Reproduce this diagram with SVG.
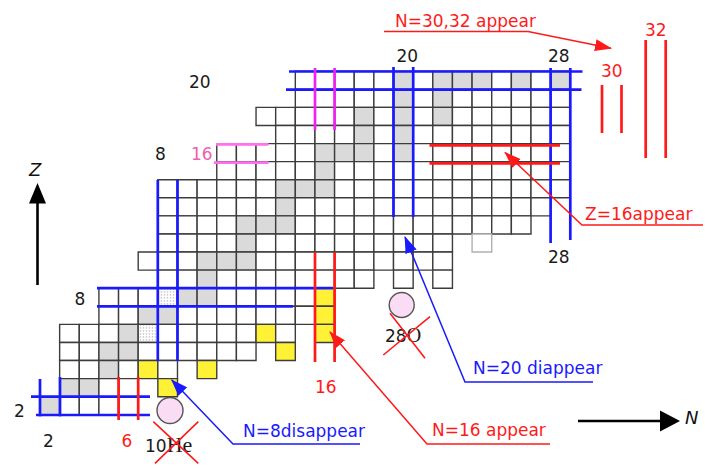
<svg xmlns="http://www.w3.org/2000/svg" width="705" height="469" viewBox="0 0 705 469">
<style>
.cl rect{fill:#fff;stroke:#3c3c3c;stroke-width:1.4;vector-effect:non-scaling-stroke}
.cl rect.s{fill:#dadada}
.cl rect.y{fill:#fff236}
.cl rect.d{fill:url(#dots)}
.cl rect.l{stroke:#b0b0b0}
.b{stroke:#1a1aff;stroke-width:2.7;fill:none}
.r{stroke:#ff1a1a;stroke-width:2.7;fill:none}
.m{stroke:#f020f0;stroke-width:2.7;fill:none}
.pk{stroke:#ff70ee;stroke-width:2.7;fill:none}
.lb{stroke:#1a1aff;stroke-width:1.5;fill:none;marker-end:url(#ab)}
.lr{stroke:#ff1a1a;stroke-width:1.5;fill:none;marker-end:url(#ar)}
.x{stroke:#ff1a1a;stroke-width:1.6}
text{font-family:"DejaVu Sans",sans-serif;font-size:17px}
.tr{fill:#ff1a1a}
.tb{fill:#1a1aff}
.tk{fill:#1a1a1a}
.tp{fill:#f060b0}
.it{font-style:italic;font-size:18px;fill:#111}
.sf{font-family:"Liberation Serif",serif}
.pc{fill:#fadcf5;stroke:#555;stroke-width:1.4}
</style>
<defs>
<pattern id="dots" patternUnits="userSpaceOnUse" width="0.153" height="0.166"><rect width="0.153" height="0.166" fill="#fff"/><circle cx="0.076" cy="0.083" r="0.036" fill="#a0a0a0"/></pattern>
<marker id="ar" viewBox="0 0 17 12" markerWidth="17" markerHeight="12" refX="16" refY="6" orient="auto" markerUnits="userSpaceOnUse"><path d="M0 0L17 6L0 12z" fill="#ff1a1a"/></marker>
<marker id="ab" viewBox="0 0 17 12" markerWidth="17" markerHeight="12" refX="16" refY="6" orient="auto" markerUnits="userSpaceOnUse"><path d="M0 0L17 6L0 12z" fill="#1a1aff"/></marker>
</defs>
<rect width="705" height="469" fill="#fff"/>
<g id="chart" class="cl" transform="matrix(19.64 0 0 18.08 0.72 71.26)">
<!-- Z=20 -->
<rect x="15" y="0" width="1" height="1"/><rect x="16" y="0" width="1" height="1"/><rect x="17" y="0" width="1" height="1"/><rect x="18" y="0" width="1" height="1"/><rect x="19" y="0" width="1" height="1"/><rect class="s" x="20" y="0" width="1" height="1"/><rect x="21" y="0" width="1" height="1"/><rect class="s" x="22" y="0" width="1" height="1"/><rect class="s" x="23" y="0" width="1" height="1"/><rect class="s" x="24" y="0" width="1" height="1"/><rect x="25" y="0" width="1" height="1"/><rect class="s" x="26" y="0" width="1" height="1"/><rect x="27" y="0" width="1" height="1"/><rect class="s" x="28" y="0" width="1" height="1"/>
<!-- Z=19 -->
<rect x="15" y="1" width="1" height="1"/><rect x="16" y="1" width="1" height="1"/><rect x="17" y="1" width="1" height="1"/><rect x="18" y="1" width="1" height="1"/><rect x="19" y="1" width="1" height="1"/><rect class="s" x="20" y="1" width="1" height="1"/><rect x="21" y="1" width="1" height="1"/><rect class="s" x="22" y="1" width="1" height="1"/><rect x="23" y="1" width="1" height="1"/><rect x="24" y="1" width="1" height="1"/><rect x="25" y="1" width="1" height="1"/><rect x="26" y="1" width="1" height="1"/><rect x="27" y="1" width="1" height="1"/><rect x="28" y="1" width="1" height="1"/>
<!-- Z=18 -->
<rect x="13" y="2" width="1" height="1"/><rect x="14" y="2" width="1" height="1"/><rect x="15" y="2" width="1" height="1"/><rect x="16" y="2" width="1" height="1"/><rect x="17" y="2" width="1" height="1"/><rect class="s" x="18" y="2" width="1" height="1"/><rect x="19" y="2" width="1" height="1"/><rect class="s" x="20" y="2" width="1" height="1"/><rect x="21" y="2" width="1" height="1"/><rect class="s" x="22" y="2" width="1" height="1"/><rect x="23" y="2" width="1" height="1"/><rect x="24" y="2" width="1" height="1"/><rect x="25" y="2" width="1" height="1"/><rect x="26" y="2" width="1" height="1"/><rect x="27" y="2" width="1" height="1"/><rect x="28" y="2" width="1" height="1"/>
<!-- Z=17 -->
<rect x="14" y="3" width="1" height="1"/><rect x="15" y="3" width="1" height="1"/><rect x="16" y="3" width="1" height="1"/><rect x="17" y="3" width="1" height="1"/><rect class="s" x="18" y="3" width="1" height="1"/><rect x="19" y="3" width="1" height="1"/><rect class="s" x="20" y="3" width="1" height="1"/><rect x="21" y="3" width="1" height="1"/><rect x="22" y="3" width="1" height="1"/><rect x="23" y="3" width="1" height="1"/><rect x="24" y="3" width="1" height="1"/><rect x="25" y="3" width="1" height="1"/><rect x="26" y="3" width="1" height="1"/><rect x="27" y="3" width="1" height="1"/><rect x="28" y="3" width="1" height="1"/>
<!-- Z=16 -->
<rect x="11" y="4" width="1" height="1"/><rect x="12" y="4" width="1" height="1"/><rect x="13" y="4" width="1" height="1"/><rect x="14" y="4" width="1" height="1"/><rect x="15" y="4" width="1" height="1"/><rect class="s" x="16" y="4" width="1" height="1"/><rect class="s" x="17" y="4" width="1" height="1"/><rect class="s" x="18" y="4" width="1" height="1"/><rect x="19" y="4" width="1" height="1"/><rect class="s" x="20" y="4" width="1" height="1"/><rect x="21" y="4" width="1" height="1"/><rect x="22" y="4" width="1" height="1"/><rect x="23" y="4" width="1" height="1"/><rect x="24" y="4" width="1" height="1"/><rect x="25" y="4" width="1" height="1"/><rect x="26" y="4" width="1" height="1"/><rect x="27" y="4" width="1" height="1"/><rect x="28" y="4" width="1" height="1"/>
<!-- Z=15 -->
<rect x="11" y="5" width="1" height="1"/><rect x="12" y="5" width="1" height="1"/><rect x="13" y="5" width="1" height="1"/><rect x="14" y="5" width="1" height="1"/><rect x="15" y="5" width="1" height="1"/><rect class="s" x="16" y="5" width="1" height="1"/><rect x="17" y="5" width="1" height="1"/><rect x="18" y="5" width="1" height="1"/><rect x="19" y="5" width="1" height="1"/><rect x="20" y="5" width="1" height="1"/><rect x="21" y="5" width="1" height="1"/><rect x="22" y="5" width="1" height="1"/><rect x="23" y="5" width="1" height="1"/><rect x="24" y="5" width="1" height="1"/><rect x="25" y="5" width="1" height="1"/><rect x="26" y="5" width="1" height="1"/><rect x="27" y="5" width="1" height="1"/><rect x="28" y="5" width="1" height="1"/>
<!-- Z=14 -->
<rect x="8" y="6" width="1" height="1"/><rect x="9" y="6" width="1" height="1"/><rect x="10" y="6" width="1" height="1"/><rect x="11" y="6" width="1" height="1"/><rect x="12" y="6" width="1" height="1"/><rect x="13" y="6" width="1" height="1"/><rect class="s" x="14" y="6" width="1" height="1"/><rect class="s" x="15" y="6" width="1" height="1"/><rect class="s" x="16" y="6" width="1" height="1"/><rect x="17" y="6" width="1" height="1"/><rect x="18" y="6" width="1" height="1"/><rect x="19" y="6" width="1" height="1"/><rect x="20" y="6" width="1" height="1"/><rect x="21" y="6" width="1" height="1"/><rect x="22" y="6" width="1" height="1"/><rect x="23" y="6" width="1" height="1"/><rect x="24" y="6" width="1" height="1"/><rect x="25" y="6" width="1" height="1"/><rect x="26" y="6" width="1" height="1"/><rect x="27" y="6" width="1" height="1"/><rect x="28" y="6" width="1" height="1"/>
<!-- Z=13 -->
<rect x="8" y="7" width="1" height="1"/><rect x="9" y="7" width="1" height="1"/><rect x="10" y="7" width="1" height="1"/><rect x="11" y="7" width="1" height="1"/><rect x="12" y="7" width="1" height="1"/><rect x="13" y="7" width="1" height="1"/><rect class="s" x="14" y="7" width="1" height="1"/><rect x="15" y="7" width="1" height="1"/><rect x="16" y="7" width="1" height="1"/><rect x="17" y="7" width="1" height="1"/><rect x="18" y="7" width="1" height="1"/><rect x="19" y="7" width="1" height="1"/><rect x="20" y="7" width="1" height="1"/><rect x="21" y="7" width="1" height="1"/><rect x="22" y="7" width="1" height="1"/><rect x="23" y="7" width="1" height="1"/><rect x="24" y="7" width="1" height="1"/><rect x="25" y="7" width="1" height="1"/><rect x="26" y="7" width="1" height="1"/><rect x="27" y="7" width="1" height="1"/>
<!-- Z=12 -->
<rect x="8" y="8" width="1" height="1"/><rect x="9" y="8" width="1" height="1"/><rect x="10" y="8" width="1" height="1"/><rect x="11" y="8" width="1" height="1"/><rect class="s" x="12" y="8" width="1" height="1"/><rect class="s" x="13" y="8" width="1" height="1"/><rect class="s" x="14" y="8" width="1" height="1"/><rect x="15" y="8" width="1" height="1"/><rect x="16" y="8" width="1" height="1"/><rect x="17" y="8" width="1" height="1"/><rect x="18" y="8" width="1" height="1"/><rect x="19" y="8" width="1" height="1"/><rect x="20" y="8" width="1" height="1"/><rect x="21" y="8" width="1" height="1"/><rect x="22" y="8" width="1" height="1"/><rect x="23" y="8" width="1" height="1"/><rect x="24" y="8" width="1" height="1"/><rect x="25" y="8" width="1" height="1"/><rect x="26" y="8" width="1" height="1"/>
<!-- Z=11 -->
<rect x="8" y="9" width="1" height="1"/><rect x="9" y="9" width="1" height="1"/><rect x="10" y="9" width="1" height="1"/><rect x="11" y="9" width="1" height="1"/><rect class="s" x="12" y="9" width="1" height="1"/><rect x="13" y="9" width="1" height="1"/><rect x="14" y="9" width="1" height="1"/><rect x="15" y="9" width="1" height="1"/><rect x="16" y="9" width="1" height="1"/><rect x="17" y="9" width="1" height="1"/><rect x="18" y="9" width="1" height="1"/><rect x="19" y="9" width="1" height="1"/><rect x="20" y="9" width="1" height="1"/><rect x="21" y="9" width="1" height="1"/><rect x="22" y="9" width="1" height="1"/><rect class="l" x="24" y="9" width="1" height="1"/>
<!-- Z=10 -->
<rect x="7" y="10" width="1" height="1"/><rect x="8" y="10" width="1" height="1"/><rect x="9" y="10" width="1" height="1"/><rect class="s" x="10" y="10" width="1" height="1"/><rect class="s" x="11" y="10" width="1" height="1"/><rect class="s" x="12" y="10" width="1" height="1"/><rect x="13" y="10" width="1" height="1"/><rect x="14" y="10" width="1" height="1"/><rect x="15" y="10" width="1" height="1"/><rect x="16" y="10" width="1" height="1"/><rect x="17" y="10" width="1" height="1"/><rect x="18" y="10" width="1" height="1"/><rect x="19" y="10" width="1" height="1"/><rect x="20" y="10" width="1" height="1"/><rect x="21" y="10" width="1" height="1"/><rect x="22" y="10" width="1" height="1"/>
<!-- Z=9 -->
<rect x="8" y="11" width="1" height="1"/><rect x="9" y="11" width="1" height="1"/><rect class="s" x="10" y="11" width="1" height="1"/><rect x="11" y="11" width="1" height="1"/><rect x="12" y="11" width="1" height="1"/><rect x="13" y="11" width="1" height="1"/><rect x="14" y="11" width="1" height="1"/><rect x="15" y="11" width="1" height="1"/><rect x="16" y="11" width="1" height="1"/><rect x="17" y="11" width="1" height="1"/><rect x="18" y="11" width="1" height="1"/><rect x="20" y="11" width="1" height="1"/><rect x="22" y="11" width="1" height="1"/>
<!-- Z=8 -->
<rect x="5" y="12" width="1" height="1"/><rect x="6" y="12" width="1" height="1"/><rect x="7" y="12" width="1" height="1"/><rect class="d" x="8" y="12" width="1" height="1"/><rect class="s" x="9" y="12" width="1" height="1"/><rect class="s" x="10" y="12" width="1" height="1"/><rect x="11" y="12" width="1" height="1"/><rect x="12" y="12" width="1" height="1"/><rect x="13" y="12" width="1" height="1"/><rect x="14" y="12" width="1" height="1"/><rect x="15" y="12" width="1" height="1"/><rect class="y" x="16" y="12" width="1" height="1"/>
<!-- Z=7 -->
<rect x="5" y="13" width="1" height="1"/><rect x="6" y="13" width="1" height="1"/><rect class="s" x="7" y="13" width="1" height="1"/><rect class="s" x="8" y="13" width="1" height="1"/><rect x="9" y="13" width="1" height="1"/><rect x="10" y="13" width="1" height="1"/><rect x="11" y="13" width="1" height="1"/><rect x="12" y="13" width="1" height="1"/><rect x="13" y="13" width="1" height="1"/><rect x="14" y="13" width="1" height="1"/><rect x="15" y="13" width="1" height="1"/><rect class="y" x="16" y="13" width="1" height="1"/>
<!-- Z=6 -->
<rect x="3" y="14" width="1" height="1"/><rect x="4" y="14" width="1" height="1"/><rect x="5" y="14" width="1" height="1"/><rect class="s" x="6" y="14" width="1" height="1"/><rect class="d" x="7" y="14" width="1" height="1"/><rect x="8" y="14" width="1" height="1"/><rect x="9" y="14" width="1" height="1"/><rect x="10" y="14" width="1" height="1"/><rect x="11" y="14" width="1" height="1"/><rect x="12" y="14" width="1" height="1"/><rect class="y" x="13" y="14" width="1" height="1"/><rect x="14" y="14" width="1" height="1"/><rect class="y" x="16" y="14" width="1" height="1"/>
<!-- Z=5 -->
<rect x="3" y="15" width="1" height="1"/><rect x="4" y="15" width="1" height="1"/><rect class="s" x="5" y="15" width="1" height="1"/><rect class="s" x="6" y="15" width="1" height="1"/><rect x="7" y="15" width="1" height="1"/><rect x="8" y="15" width="1" height="1"/><rect x="9" y="15" width="1" height="1"/><rect x="10" y="15" width="1" height="1"/><rect x="11" y="15" width="1" height="1"/><rect x="12" y="15" width="1" height="1"/><rect class="y" x="14" y="15" width="1" height="1"/>
<!-- Z=4 -->
<rect x="3" y="16" width="1" height="1"/><rect x="4" y="16" width="1" height="1"/><rect class="s" x="5" y="16" width="1" height="1"/><rect x="6" y="16" width="1" height="1"/><rect class="y" x="7" y="16" width="1" height="1"/><rect x="8" y="16" width="1" height="1"/><rect class="y" x="10" y="16" width="1" height="1"/>
<!-- Z=3 -->
<rect class="s" x="3" y="17" width="1" height="1"/><rect class="s" x="4" y="17" width="1" height="1"/><rect x="5" y="17" width="1" height="1"/><rect x="6" y="17" width="1" height="1"/><rect class="y" x="8" y="17" width="1" height="1"/>
<!-- Z=2 -->
<rect class="s" x="2" y="18" width="1" height="1"/><rect x="3" y="18" width="1" height="1"/><rect x="4" y="18" width="1" height="1"/><rect x="5" y="18" width="1" height="1"/><rect x="6" y="18" width="1" height="1"/>
</g>
<g id="magic-lines">
<path class="b" d="M40 379V416.5M60 377V416.5M31 396.7H150M36 415H150"/>
<path class="b" d="M157.8 180V361M177.5 180V361M97 288.2H333M97 306.3H293"/>
<path class="b" d="M393.5 67V217M413.2 67V217M289 71.5H582.5M286 89.6H581.5"/>
<path class="b" d="M550.6 68V243M570.3 68V240"/>
<path class="r" d="M118.6 377V420M138.2 377V420"/>
<path class="r" d="M315 252V362M334.6 252V362"/>
<path class="r" d="M429.5 145.3H560M429.5 163.3H560"/>
<path class="r" d="M602 85V133M621.5 85V133M645.7 40V158M665.7 40V158"/>
<path class="m" d="M315 68V130M334.6 68V130"/>
<path class="pk" d="M216 144.3H268.5M214 162.7H268.5"/>
</g>
<g id="labels">
<text class="tk" x="189" y="88.3">20</text>
<text class="tk" x="155" y="160">8</text>
<text class="tp" x="191" y="160">16</text>
<text class="tk" x="74.5" y="305">8</text>
<text class="tk" x="14" y="416.5">2</text>
<text class="tk" x="43" y="447">2</text>
<text class="tr" x="121.5" y="447">6</text>
<text class="tr" x="315" y="393">16</text>
<text class="tk" x="396.5" y="61.5">20</text>
<text class="tk" x="548" y="61.5">28</text>
<text class="tk" x="548" y="263">28</text>
<text class="tr" x="601" y="76.5">30</text>
<text class="tr" x="645" y="36">32</text>
</g>
<g id="He10">
<circle class="pc" cx="170" cy="410.5" r="13"/>
<text class="tk" x="145" y="451.5">10<tspan class="sf" font-size="22">He</tspan></text>
<path class="x" d="M153.3 421.7L198.3 463.3M155 463.3L198.3 421.7"/>
</g>
<g id="O28">
<circle class="pc" cx="401.7" cy="305" r="12.5"/>
<text class="tk" x="385" y="341.5">28<tspan class="sf" font-size="20">O</tspan></text>
<path class="x" d="M390 313.3L425 358.3M383.3 355L430 316.7"/>
</g>
<g id="connectors">
<path class="lr" d="M384 31.5H528L611 48.3"/>
<path class="lr" d="M703 225H582L505 152.5"/>
<path class="lb" d="M593 382H465L405 237"/>
<path class="lr" d="M550 444H427L330 332"/>
<path class="lb" d="M360 444H233L171.7 380"/>
</g>
<g id="annotations">
<text class="tr" x="395" y="27">N=30,32 appear</text>
<text class="tr" x="585" y="219.5">Z=16appear</text>
<text class="tb" x="473" y="374">N=20 diappear</text>
<text class="tr" x="432" y="436">N=16 appear</text>
<text class="tb" x="243" y="436.5">N=8disappear</text>
</g>
<g id="axes">
<path d="M37.5 285V200" stroke="#000" stroke-width="2.6"/>
<path d="M37.5 183L29 203.5H46z" fill="#000"/>
<text class="it" x="29" y="176">Z</text>
<path d="M578 421H662" stroke="#000" stroke-width="2.6"/>
<path d="M680 421L660 410.5V431.5z" fill="#000"/>
<text class="it" x="685" y="424">N</text>
</g>
</svg>
